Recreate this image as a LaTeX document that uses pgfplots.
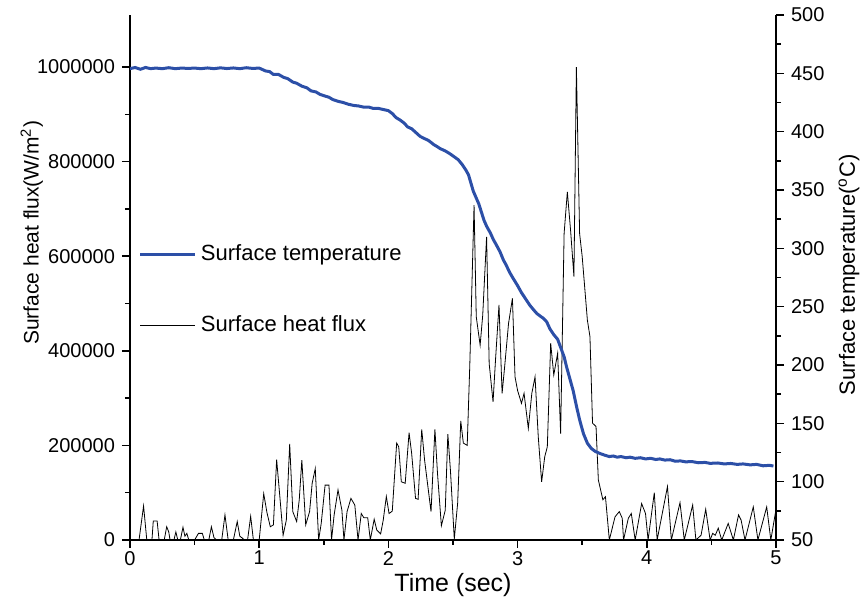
\documentclass[border=0pt]{standalone}
\usepackage{pgfplots}
\pgfplotsset{compat=1.18}
\usepackage{fontspec}
\setmainfont{Liberation Sans}
\definecolor{tblue}{RGB}{44,79,167}
\begin{document}
\begin{tikzpicture}
\path[use as bounding box] (-65pt,-29pt) rectangle (365.5pt,270pt);
\pgfplotsset{
 common/.style={
  scale only axis, width=323pt, height=262.5pt, at={(0,0)}, anchor=south west,
  xmin=0, xmax=5,
  tick align=outside,
  major tick length=4pt, minor tick length=2.5pt,
  every tick/.style={black, line width=0.8pt},
  axis line style={line width=1pt},
  tick label style={font=\fontsize{10}{12}\selectfont},
  label style={font=\fontsize{11}{13}\selectfont},
  /pgf/number format/assume math mode=true,
 }
}
\begin{axis}[common,
  axis x line*=bottom, axis y line*=left,
  ymin=0, ymax=1110000,
  xtick={0,1,2,3,4,5}, minor x tick num=1,
  ytick={0,200000,400000,600000,800000,1000000}, minor y tick num=1,
  scaled y ticks=false,
  xticklabel style={yshift=2pt},
  yticklabel style={/pgf/number format/fixed, /pgf/number format/1000 sep={}},
  xlabel={Time (sec)},
  xlabel style={at={(axis description cs:0.5,-0.085)}, anchor=center, font=\fontsize{12.5}{14}\selectfont},
  ylabel={Surface heat flux(W/m\textsuperscript{2})},
  ylabel style={at={(axis description cs:-0.152,0.585)}, anchor=center, font=\fontsize{10.5}{13}\selectfont},
  legend style={draw=none, fill=none, at={(axis description cs:0.004,0.578)}, anchor=north west, font=\fontsize{11}{13}\selectfont, row sep=22pt},
  legend cell align=left,
  legend image code/.code={\draw[#1] (0pt,0pt) -- (27.5pt,0pt);},
]
\addlegendimage{tblue, line width=1.5pt}
\addlegendentry{Surface temperature}
\addplot[black, line width=0.4pt] coordinates {
(0,0) (0.07,0) (0.105,72000) (0.13,0) (0.17,0) (0.18,40000) (0.21,40000) (0.225,0)
(0.265,0) (0.284,28000) (0.30,17000) (0.31,0) (0.34,0) (0.355,17000) (0.37,0)
(0.39,0) (0.41,27000) (0.425,8000) (0.44,14000) (0.455,0) (0.50,0) (0.53,14000)
(0.56,14000) (0.575,0) (0.61,0) (0.63,28000) (0.65,5000) (0.67,0) (0.71,0)
(0.735,53000) (0.76,0) (0.80,0) (0.83,39000) (0.85,8000) (0.87,4000) (0.885,0)
(0.91,0) (0.934,50000) (0.955,0) (1.00,0) (1.035,98000) (1.06,58000) (1.086,28000)
(1.11,32000) (1.135,170000) (1.16,91000) (1.185,10000) (1.21,42000) (1.236,203000)
(1.26,60000) (1.29,39000) (1.31,85000) (1.33,169000) (1.36,32000) (1.39,60000)
(1.41,120000) (1.434,151000) (1.46,0) (1.48,35000) (1.51,116000) (1.54,116000)
(1.56,0) (1.58,53000) (1.61,106000) (1.64,63000) (1.656,0) (1.68,60000) (1.71,88000)
(1.74,74000) (1.765,0) (1.79,56000) (1.81,47000) (1.84,47000) (1.86,0) (1.89,44000)
(1.91,21000) (1.94,13000) (1.96,42000) (1.984,92000) (2.005,56000) (2.03,61000)
(2.064,205000) (2.08,197000) (2.10,123000) (2.13,120000) (2.16,227000) (2.18,183000)
(2.21,88000) (2.23,86000) (2.258,234000) (2.28,169000) (2.33,60000) (2.36,234000)
(2.38,141000) (2.41,30000) (2.44,63000) (2.46,224000) (2.48,148000) (2.51,2000)
(2.536,78000) (2.56,252000) (2.58,205000) (2.61,200000) (2.63,370000) (2.663,708000)
(2.68,472000) (2.71,412000) (2.73,475000) (2.76,641000) (2.78,373000) (2.81,292000)
(2.83,385000) (2.856,497000) (2.88,310000) (2.90,367000) (2.93,458000) (2.96,511000)
(2.98,345000) (3.00,316000) (3.03,289000) (3.05,310000) (3.083,236000) (3.11,310000)
(3.135,345000) (3.16,218000) (3.186,123000) (3.21,176000) (3.23,197000) (3.256,416000)
(3.28,349000) (3.31,395000) (3.333,225000) (3.36,648000) (3.385,736000) (3.41,655000)
(3.436,557000) (3.455,1000000) (3.48,648000) (3.50,599000) (3.54,465000) (3.56,430000)
(3.58,247000) (3.607,240000) (3.625,127000) (3.66,85000) (3.68,91500) (3.71,0)
(3.754,49000) (3.787,60000) (3.81,46000) (3.82,0) (3.857,46000) (3.88,56000) (3.91,0)
(3.96,77000) (3.99,56000) (4.01,0) (4.058,100000) (4.08,0) (4.16,113000) (4.19,0)
(4.257,79000) (4.29,0) (4.355,74000) (4.38,0) (4.42,10000) (4.456,65000) (4.49,0)
(4.51,14000) (4.53,10000) (4.553,25000) (4.58,0) (4.63,35000) (4.67,0) (4.71,53000)
(4.73,42000) (4.76,0) (4.824,70000) (4.86,0) (4.928,70000) (4.96,0) (5.0,65000)
};
\addlegendentry{Surface heat flux}
\end{axis}
\begin{axis}[common, axis x line=none, axis y line*=right,
  ymin=50, ymax=500, ytick={50,100,150,200,250,300,350,400,450,500}, minor y tick num=1,
  ylabel={Surface temperature(\textsuperscript{o}C)},
  ylabel style={at={(axis description cs:1.113,0.505)}, anchor=center}]
\addplot[tblue, line width=1.5pt] coordinates {
(0,454) (0.04,455) (0.08,453.5) (0.12,455) (0.16,454) (0.2,454.5) (0.25,454) (0.3,454.8)
(0.35,454) (0.4,454.5) (0.45,454.2) (0.5,454.5) (0.55,454) (0.6,454.6) (0.65,454)
(0.7,454.7) (0.75,454.1) (0.8,454.6) (0.85,454) (0.9,454.8) (0.95,454.2) (1.0,454.5)
(1.05,452) (1.08,451.5) (1.11,449) (1.15,449) (1.19,446.5) (1.22,445.5) (1.26,442.5)
(1.29,441.5) (1.33,439) (1.37,437.5) (1.40,435) (1.44,434) (1.47,432) (1.51,430.5)
(1.54,429.5) (1.57,427.5) (1.61,426) (1.65,425) (1.69,423.5) (1.73,422.5) (1.77,422)
(1.81,421) (1.85,421) (1.88,420) (1.92,420) (1.96,419) (2.00,418) (2.03,415.5)
(2.06,412) (2.09,410) (2.12,407.5) (2.15,404) (2.18,402.5) (2.21,399.5) (2.245,396)
(2.28,394) (2.31,392.5) (2.35,389) (2.38,387) (2.40,385.5) (2.44,383.5) (2.477,381)
(2.515,378) (2.54,376) (2.57,372) (2.60,367) (2.62,363) (2.657,349) (2.70,338)
(2.74,324) (2.76,319) (2.79,313) (2.81,308) (2.84,302) (2.864,297) (2.89,290) (2.91,286)
(2.94,279) (2.967,274) (3.00,268) (3.03,262) (3.06,257) (3.096,251) (3.13,246.5)
(3.15,244) (3.18,241.5) (3.2,240) (3.225,237) (3.25,231) (3.28,226) (3.31,222)
(3.33,216) (3.36,207) (3.38,198) (3.405,188) (3.43,178) (3.457,164) (3.48,153)
(3.51,141) (3.54,133) (3.57,128.5) (3.60,126) (3.64,124) (3.68,122.5) (3.71,121.5)
(3.74,122) (3.77,121) (3.80,121.5) (3.84,120.5) (3.87,121) (3.91,120) (3.95,120.5)
(3.99,119.5) (4.03,120) (4.07,119) (4.10,119.5) (4.14,118.5) (4.18,118.8) (4.22,117.5)
(4.26,117.8) (4.30,117) (4.35,117.2) (4.40,116.2) (4.45,116.5) (4.49,115.7) (4.55,116)
(4.60,115.2) (4.65,115.6) (4.70,114.8) (4.745,115.2) (4.80,114.4) (4.85,114.8)
(4.90,113.6) (4.95,114) (4.98,113.4)
};
\end{axis}
\end{tikzpicture}
\end{document}
